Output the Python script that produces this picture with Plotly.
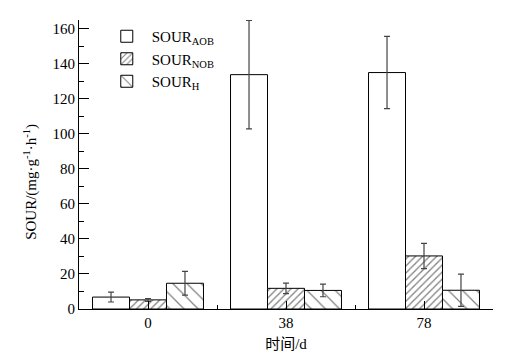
import plotly.graph_objects as go

categories = ["0", "38", "78"]
x_pos = [0, 1, 2]
series_names = ["SOUR<sub>AOB</sub>", "SOUR<sub>NOB</sub>", "SOUR<sub>H</sub>"]
aob = [6.8, 133.8, 135.0]
aob_err = [2.8, 31.0, 20.6]
nob = [5.2, 11.8, 30.3]
nob_err = [0.8, 3.0, 7.2]
h = [14.7, 10.6, 10.7]
h_err = [6.8, 3.6, 9.2]
y_ticks = [0, 20, 40, 60, 80, 100, 120, 140, 160]
y_title = "SOUR/(mg·g<sup>-1</sup>·h<sup>-1</sup>)"
x_title = "时间/d"

FONT = "Liberation Serif"
FONT_CJK = "Liberation Serif, Noto Sans CJK SC"

fig = go.Figure()
styles = [
    dict(shape="", size=8, solidity=0.1),
    dict(shape="/", size=5, solidity=0.25),
    dict(shape="\\", size=10, solidity=0.12),
]
for name, vals, errs, pat in zip(series_names, [aob, nob, h], [aob_err, nob_err, h_err], styles):
    fig.add_trace(go.Bar(
        x=x_pos, y=vals, name=name,
        marker=dict(color="white", line=dict(color="black", width=1),
                    pattern=dict(shape=pat["shape"], size=pat["size"], solidity=pat["solidity"],
                                 fgcolor="black", bgcolor="white", fillmode="overlay")),
        error_y=dict(type="data", array=errs, visible=True, color="#444444", thickness=1.2, width=3),
    ))

fig.add_annotation(text=y_title, xref="paper", yref="paper", x=-0.116, y=0.44,
                   xanchor="center", yanchor="middle", textangle=-90, showarrow=False,
                   font=dict(family=FONT, size=15, color="black"))

fig.update_layout(
    width=513, height=355,
    margin=dict(l=71, r=28, t=12, b=54),
    paper_bgcolor="white", plot_bgcolor="white",
    barmode="group", bargap=0.196, bargroupgap=0,
    font=dict(family=FONT, size=15, color="black"),
    showlegend=True,
    legend=dict(x=0.055, y=1.0, xanchor="left", yanchor="top", bgcolor="rgba(0,0,0,0)",
                font=dict(family=FONT, size=15), itemwidth=40, tracegroupgap=6),
    xaxis=dict(range=[-0.5, 2.5], tickmode="array", tickvals=x_pos, ticktext=categories,
               showline=True, linecolor="black", linewidth=1.2, ticks="inside", ticklen=8,
               tickcolor="black", showgrid=False, zeroline=False,
               minor=dict(tickmode="linear", tick0=0.5, dtick=1, ticks="inside", ticklen=4, tickcolor="black"),
               title=dict(text=x_title, font=dict(family=FONT_CJK, size=15), standoff=8),
               tickfont=dict(family=FONT, size=15)),
    yaxis=dict(range=[0, 165], tickmode="array", tickvals=y_ticks,
               showline=True, linecolor="black", linewidth=1.2, ticks="inside", ticklen=10,
               tickcolor="black", showgrid=False, zeroline=False,
               minor=dict(tickmode="linear", tick0=10, dtick=20, ticks="inside", ticklen=5, tickcolor="black"),
               tickfont=dict(family=FONT, size=15)),
)

fig.write_html("out.html")
